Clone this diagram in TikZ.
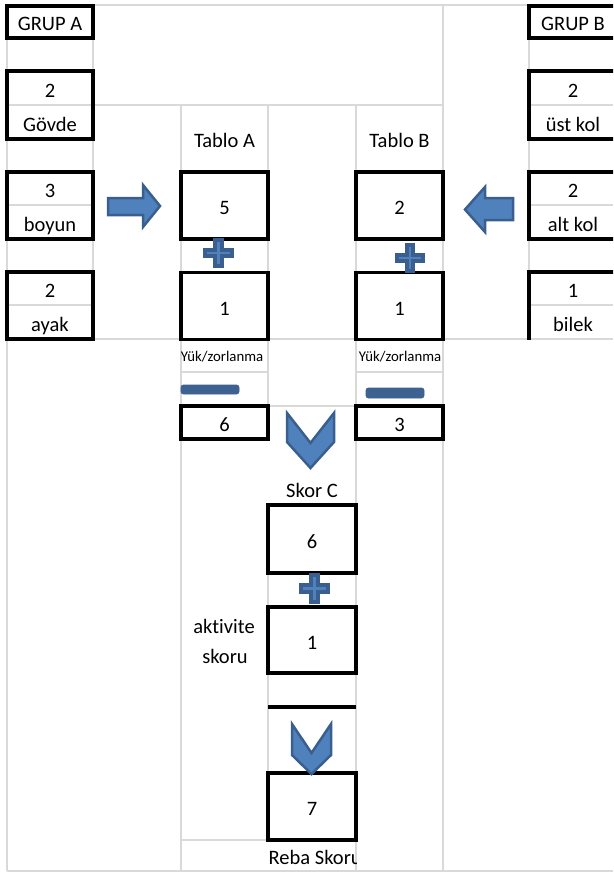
\documentclass[tikz,border=0pt]{standalone}
\usepackage{fontspec}
\setmainfont{Carlito}[Ligatures=NoCommon]
\definecolor{gridgray}{HTML}{D9D9D9}
\definecolor{shapeblue}{HTML}{4F81BD}
\definecolor{shapeedge}{HTML}{3A5F8F}
\definecolor{bardark}{HTML}{3D6191}
\begin{document}
\begin{tikzpicture}[x=1pt,y=-1pt,
  gridline/.style={draw=gridgray, line width=1.8},
  boxedge/.style={draw=black, line width=3.2},
  cellbox/.style={boxedge, inner sep=0pt, text height=18pt, text depth=0pt,
    font=\fontsize{20.5}{24}\selectfont},
  celltext/.style={inner sep=0pt, text height=18pt, text depth=0pt,
    font=\fontsize{20.5}{24}\selectfont},
  smalltext/.style={inner sep=0pt, text height=11pt, text depth=0pt,
    font=\fontsize{14.8}{17}\selectfont},
  blockshape/.style={draw=shapeedge, fill=shapeblue, line width=2.5, line join=miter},
  minusbar/.style={draw=bardark, fill=bardark, line width=0.8, rounded corners=2.5},
  plussign/.pic={
    \draw[draw=shapeedge, fill=shapeblue, line width=4.3, line join=miter]
      (-3.2,-13.3) -- (3.2,-13.3) -- (3.2,-3.2) -- (13.3,-3.2) -- (13.3,3.2)
      -- (3.2,3.2) -- (3.2,13.3) -- (-3.2,13.3) -- (-3.2,3.2) -- (-13.3,3.2)
      -- (-13.3,-3.2) -- (-3.2,-3.2) -- cycle;
  }]
\useasboundingbox (0,0) rectangle (613,875);
\clip (0,0) rectangle (613,875);

% sheet grid lines
\path[gridline]
  (7,5) -- (7,871)
  (93,5) -- (93,339)
  (181,105) -- (181,871)
  (268,105) -- (268,406)
  (268,505) -- (268,840)
  (356,105) -- (356,871)
  (443,5) -- (443,871)
  (529,5) -- (529,339)
  (7,5) -- (613,5)
  (7,105) -- (443,105)
  (529,105) -- (613,105)
  (7,205) -- (93,205)
  (529,205) -- (613,205)
  (7,305) -- (93,305)
  (529,305) -- (613,305)
  (7,339) -- (613,339)
  (181,372) -- (268,372)
  (356,372) -- (443,372)
  (181,406) -- (443,406)
  (181,840) -- (356,840)
  (7,871) -- (613,871);

% group A
\node[cellbox, minimum width=86, minimum height=32] (grpA) at (50,22) {GRUP A};
\node[cellbox, minimum width=86, minimum height=68] (trunk) at (50,105) {};
\node[celltext] (trunkV) at (50,88) {2};
\node[celltext] (trunkL) at (50,122) {Gövde};
\node[cellbox, minimum width=86, minimum height=67] (neck) at (50,205.5) {};
\node[celltext] (neckV) at (50,188.5) {3};
\node[celltext] (neckL) at (50,222) {boyun};
\node[cellbox, minimum width=86, minimum height=67] (legs) at (50,305.5) {};
\node[celltext] (legsV) at (50,288.5) {2};
\node[celltext] (legsL) at (50,322) {ayak};

% group B
\node[cellbox, minimum width=88, minimum height=32] (grpB) at (573,22) {GRUP B};
\node[cellbox, minimum width=88, minimum height=68] (upper) at (573,105) {};
\node[celltext] (upperV) at (573,88) {2};
\node[celltext] (upperL) at (573,122) {üst kol};
\node[cellbox, minimum width=88, minimum height=67] (lower) at (573,205.5) {};
\node[celltext] (lowerV) at (573,188.5) {2};
\node[celltext] (lowerL) at (573,222) {alt kol};
\coordinate (wristNE) at (617,272);
\coordinate (wristSW) at (529,340);
\draw[boxedge] (wristNE) -| (wristSW);
\node[celltext] (wristV) at (573,288.5) {1};
\node[celltext] (wristL) at (573,322) {bilek};

% table A column
\node[celltext] (tabA) at (224.5,138.5) {Tablo A};
\node[cellbox, minimum width=87, minimum height=67] (postA) at (224.5,205.5) {5};
\node[cellbox, minimum width=87, minimum height=67] (addA) at (224.5,306) {1};
\node[smalltext] (loadA) at (222,355.5) {Yük/zorlanma};
\node[cellbox, minimum width=87, minimum height=33] (scoreA) at (224.5,422.5) {6};

% table B column
\node[celltext] (tabB) at (399.5,138.5) {Tablo B};
\node[cellbox, minimum width=87, minimum height=67] (postB) at (399.5,205.5) {2};
\node[cellbox, minimum width=87, minimum height=67] (addB) at (399.5,306) {1};
\node[smalltext] (loadB) at (400,355.5) {Yük/zorlanma};
\node[cellbox, minimum width=87, minimum height=33] (scoreB) at (399.5,422.5) {3};

% score C and final score
\node[celltext] (skorC) at (312,488.5) {Skor C};
\node[cellbox, minimum width=88, minimum height=68] (scoreC) at (312,539) {6};
\node[cellbox, minimum width=88, minimum height=66] (activity) at (312,640) {1};
\node[celltext, anchor=base] (actA) at (224,633) {aktivite};
\node[celltext, anchor=base] (actB) at (225,663) {skoru};
\coordinate (sumL) at (268,707);
\coordinate (sumR) at (356,707);
\draw[boxedge] (sumL) -- (sumR);
\node[cellbox, minimum width=88, minimum height=67] (reba) at (312,806.5) {7};
\begin{scope}
  \clip (181,840) rectangle (356,871);
  \node[celltext, anchor=west] (rebaL) at (268.5,855.5) {Reba Skoru};
\end{scope}

% block arrows
\draw[blockshape] (108,198) -- (143,198) -- (143,185) -- (160,206)
  -- (143,227) -- (143,215) -- (108,215) -- cycle;
\draw[blockshape] (513,198) -- (485,198) -- (485,187) -- (465,209.5)
  -- (485,232) -- (485,220) -- (513,220) -- cycle;

% plus signs
\pic at (218.5,253) {plussign};
\pic at (410,258) {plussign};
\pic at (314.5,588.5) {plussign};

% minus bars
\path[minusbar] (181,385) rectangle (239,394);
\path[minusbar] (366,388) rectangle (424,398);

% chevrons
\draw[blockshape] (287,413) -- (310.5,443) -- (334,413) -- (334,442)
  -- (310.5,468) -- (287,442) -- cycle;
\draw[blockshape] (292,724) -- (311.5,753) -- (331,724) -- (331,755)
  -- (311.5,774) -- (292,755) -- cycle;
\end{tikzpicture}
\end{document}
